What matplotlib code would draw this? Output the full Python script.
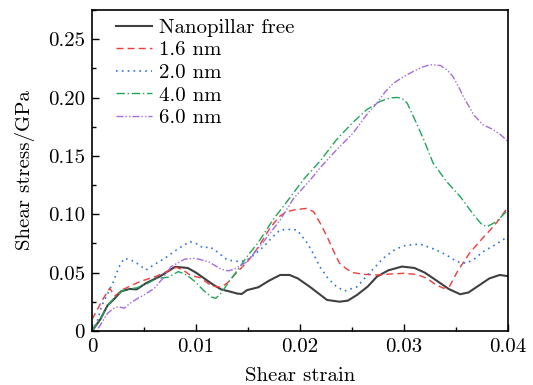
import matplotlib
matplotlib.use("Agg")
import matplotlib.pyplot as plt
from matplotlib.ticker import MultipleLocator, FuncFormatter

plt.rcParams['font.family'] = ['cmr10', 'DejaVu Serif']
plt.rcParams['axes.formatter.use_mathtext'] = True
plt.rcParams['mathtext.fontset'] = 'cm'

# Nanopillar free
free_x = [0, 0.0008, 0.0015, 0.0022, 0.0028, 0.0036, 0.0043, 0.0052, 0.0065, 0.0080, 0.0092,
          0.0100, 0.0108, 0.0116, 0.0124, 0.0133, 0.0140, 0.0144, 0.0149, 0.0160, 0.0170,
          0.0181, 0.0190, 0.0198, 0.0210, 0.0226, 0.0238, 0.0246, 0.0255, 0.0265, 0.0274,
          0.0285, 0.0298, 0.0310, 0.0320, 0.0330, 0.0343, 0.0354, 0.0362, 0.0372, 0.0382,
          0.0392, 0.0400]
free_y = [0, 0.010, 0.022, 0.028, 0.034, 0.036, 0.0357, 0.041, 0.0466, 0.055, 0.054,
          0.050, 0.045, 0.040, 0.0357, 0.0337, 0.032, 0.0317, 0.035, 0.0375, 0.043,
          0.048, 0.048, 0.045, 0.0375, 0.0266, 0.0251, 0.026, 0.031, 0.038, 0.0466,
          0.052, 0.0552, 0.054, 0.050, 0.044, 0.036, 0.0315, 0.033, 0.039, 0.045,
          0.048, 0.047]

# 1.6 nm
r16_x = [0, 0.0005, 0.0010, 0.0017, 0.0022, 0.0030, 0.0038, 0.0046, 0.0062, 0.0081, 0.0088,
         0.0095, 0.0104, 0.0115, 0.0124, 0.0130, 0.0137, 0.0150, 0.0160, 0.0171, 0.0180,
         0.0187, 0.0196, 0.0206, 0.0213, 0.0219, 0.0226, 0.0232, 0.0238, 0.0245, 0.0251,
         0.0262, 0.0274, 0.0287, 0.0299, 0.0312, 0.0322, 0.0330, 0.0338, 0.0344, 0.0352,
         0.0363, 0.0373, 0.0383, 0.0392, 0.0400]
r16_y = [0.010, 0.018, 0.0266, 0.0366, 0.030, 0.0357, 0.039, 0.0423, 0.047, 0.0546, 0.052,
         0.0475, 0.0457, 0.0386, 0.0375, 0.041, 0.048, 0.060, 0.072, 0.0880, 0.0980,
         0.1023, 0.1040, 0.105, 0.1023, 0.093, 0.081, 0.069, 0.058, 0.053, 0.050,
         0.0485, 0.048, 0.0488, 0.0494, 0.0485, 0.0452, 0.040, 0.0366, 0.0386, 0.052,
         0.0666, 0.077, 0.0866, 0.096, 0.1066]

# 2.0 nm
r20_x = [0, 0.0005, 0.0009, 0.0014, 0.0020, 0.0026, 0.0031, 0.0036, 0.0041, 0.0052, 0.0060,
         0.0070, 0.0082, 0.0094, 0.0102, 0.0107, 0.0113, 0.0120, 0.0130, 0.0142, 0.0149,
         0.0157, 0.0165, 0.0173, 0.0181, 0.0190, 0.0197, 0.0206, 0.0213, 0.0219, 0.0227,
         0.0235, 0.0243, 0.0255, 0.0265, 0.0274, 0.0280, 0.0290, 0.0299, 0.0315, 0.0331,
         0.0341, 0.0351, 0.0360, 0.0368, 0.0376, 0.0388, 0.0400]
r20_y = [0, 0.008, 0.0209, 0.030, 0.041, 0.055, 0.0623, 0.061, 0.0594, 0.0523, 0.057,
         0.0623, 0.070, 0.0766, 0.0743, 0.0709, 0.0723, 0.068, 0.0609, 0.0594, 0.0609,
         0.066, 0.0723, 0.080, 0.0866, 0.0870, 0.0866, 0.0766, 0.066, 0.0551, 0.045,
         0.038, 0.0343, 0.038, 0.048, 0.0566, 0.0623, 0.069, 0.0729, 0.0746, 0.0695,
         0.065, 0.0594, 0.058, 0.062, 0.068, 0.074, 0.081]

# 4.0 nm
r40_x = [0, 0.0008, 0.0015, 0.0022, 0.0030, 0.0043, 0.0052, 0.0062, 0.0073, 0.0083, 0.0091,
         0.0099, 0.0107, 0.0115, 0.0119, 0.0124, 0.0133, 0.0140, 0.0149, 0.0160, 0.0174,
         0.0190, 0.0203, 0.0219, 0.0235, 0.0250, 0.0264, 0.0277, 0.0286, 0.0293, 0.0298,
         0.0303, 0.0309, 0.0314, 0.0319, 0.0328, 0.0341, 0.0354, 0.0367, 0.0375, 0.0380,
         0.0389, 0.0400]
r40_y = [0, 0.010, 0.022, 0.029, 0.035, 0.037, 0.040, 0.045, 0.046, 0.0509, 0.048,
         0.0423, 0.035, 0.029, 0.028, 0.0323, 0.0437, 0.0523, 0.0637, 0.076, 0.0952,
         0.1138, 0.1295, 0.1452, 0.1638, 0.178, 0.1895, 0.1967, 0.1995, 0.2001, 0.1995,
         0.1953, 0.1838, 0.174, 0.1638, 0.1438, 0.128, 0.1152, 0.0995, 0.091, 0.0895,
         0.0937, 0.1038]

# 6.0 nm
r60_x = [0.0006, 0.0010, 0.0015, 0.0020, 0.0025, 0.0031, 0.0037, 0.0044, 0.0052, 0.0060, 0.0068,
         0.0076, 0.0089, 0.0099, 0.0112, 0.0124, 0.0131, 0.0137, 0.0149, 0.0165, 0.0181,
         0.0194, 0.0210, 0.0219, 0.0235, 0.0251, 0.0264, 0.0274, 0.0282, 0.0290, 0.0300,
         0.0309, 0.0318, 0.0325, 0.0335, 0.0341, 0.0347, 0.0352, 0.0357, 0.0367, 0.0376,
         0.0386, 0.0393, 0.0400]
r60_y = [0.0023, 0.008, 0.0152, 0.019, 0.0209, 0.0195, 0.024, 0.028, 0.032, 0.0366, 0.045,
         0.0551, 0.0615, 0.0623, 0.0594, 0.0530, 0.0515, 0.053, 0.0594, 0.0766, 0.0952,
         0.1138, 0.1295, 0.1395, 0.155, 0.1695, 0.1852, 0.1953, 0.205, 0.2124, 0.218,
         0.2224, 0.2262, 0.2281, 0.2275, 0.2240, 0.2181, 0.210, 0.2010, 0.1852, 0.1767,
         0.1724, 0.168, 0.1624]

labels = ['Nanopillar free', '1.6 nm', '2.0 nm', '4.0 nm', '6.0 nm']

FS = 15

fig = plt.figure(figsize=(5.33, 3.85), dpi=100)
ax = fig.add_axes([92/533, 1 - 331/385, (508-92)/533, (331-10)/385])

ax.plot(free_x, free_y, color='#404040', lw=1.5, ls='-', label=labels[0])
ax.plot(r16_x, r16_y, color='#f03c3c', lw=1.0, ls=(0, (5, 3)), label=labels[1])
ax.plot(r20_x, r20_y, color='#2f74e0', lw=1.2, ls=(0, (1, 2.5)), label=labels[2])
ax.plot(r40_x, r40_y, color='#1fa65a', lw=1.0, ls=(0, (6, 2, 1, 2)), label=labels[3])
ax.plot(r60_x, r60_y, color='#a56be0', lw=1.0, ls=(0, (5, 1.5, 1, 1.5, 1, 1.5)), label=labels[4])

ax.set_xlim(0, 0.04)
ax.set_ylim(0, 0.275)
ax.xaxis.set_major_locator(MultipleLocator(0.01))
ax.xaxis.set_minor_locator(MultipleLocator(0.005))
ax.yaxis.set_major_locator(MultipleLocator(0.05))
ax.yaxis.set_minor_locator(MultipleLocator(0.025))
fmt = FuncFormatter(lambda v, p: '0' if abs(v) < 1e-12 else f'{v:.2f}')
ax.xaxis.set_major_formatter(fmt)
ax.yaxis.set_major_formatter(fmt)
ax.tick_params(which='both', direction='in', top=False, right=False, labelsize=FS, width=1.0)
ax.tick_params(which='major', length=5, pad=5)
ax.tick_params(which='minor', length=3)
for s in ax.spines.values():
    s.set_linewidth(1.2)

ax.set_xlabel('Shear strain', fontsize=FS, labelpad=8)
ax.set_ylabel('Shear stress/GPa', fontsize=FS, labelpad=9)

leg = ax.legend(loc='upper left', frameon=False, fontsize=FS, handlelength=1.7,
                labelspacing=0.19, borderaxespad=0.0, borderpad=0.4, handletextpad=0.35,
                bbox_to_anchor=(0.038, 1.0))

fig.savefig('out.png', dpi=100)
